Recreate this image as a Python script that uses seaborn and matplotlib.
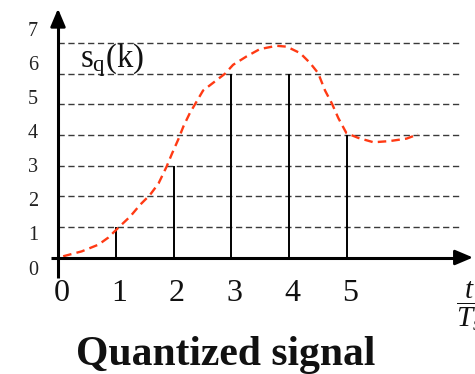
import matplotlib
matplotlib.use("Agg")
import matplotlib.pyplot as plt
import seaborn as sns
import numpy as np
import pandas as pd

# Sample instants and quantized levels
sample_k = [1, 2, 3, 4, 5]
quantized = [1, 3, 6, 6, 4]

# Continuous signal read along t/Ts
signal_t = [0.09, 0.41, 0.70, 0.87, 1.07, 1.25, 1.42, 1.59, 1.74, 1.88, 1.97,
            2.08, 2.17, 2.28, 2.37, 2.51, 2.69, 2.89, 3.03, 3.26, 3.49, 3.78,
            3.96, 4.19, 4.36, 4.50, 4.62, 4.74, 4.85, 4.99, 5.20, 5.46, 5.74,
            6.03, 6.23]
signal_v = [0.04, 0.20, 0.42, 0.65, 1.02, 1.34, 1.72, 2.04, 2.42, 2.97, 3.38,
            3.85, 4.28, 4.71, 5.00, 5.45, 5.71, 6.00, 6.29, 6.56, 6.80, 6.91,
            6.88, 6.67, 6.35, 6.02, 5.45, 5.02, 4.55, 4.06, 3.90, 3.76, 3.80,
            3.88, 4.02]

levels = [1, 2, 3, 4, 5, 6, 7]
y_labels = ["0", "1", "2", "3", "4", "5", "6", "7"]
x_labels = ["0", "1", "2", "3", "4", "5"]

sns.set_theme(style="white")
plt.rcParams["font.family"] = ["Liberation Serif", "DejaVu Serif"]
plt.rcParams["mathtext.fontset"] = "custom"
plt.rcParams["mathtext.rm"] = "Liberation Serif"
plt.rcParams["mathtext.it"] = "Liberation Serif:italic"

fig = plt.figure(figsize=(4.75, 3.74), dpi=100)
ax = fig.add_axes([0, 0, 1, 1])
ax.set_xlim(-1.0035, 7.2145)
ax.set_ylim(-3.802, 8.404)
ax.axis("off")

# Quantization levels
ax.hlines(levels, 0, 6.95, colors="#3a3a3a", linewidth=1.0,
          linestyles=(0, (4.5, 2.6)), zorder=1)

# Continuous signal
sig = pd.DataFrame({"t": signal_t, "v": signal_v})
sns.lineplot(data=sig, x="t", y="v", ax=ax, color="#ff3a14", linewidth=1.7,
             dashes=False, zorder=3)
ax.lines[-1].set_linestyle((0, (3.6, 2.2)))

# Quantized samples
ax.vlines(sample_k, 0, quantized, colors="black", linewidth=1.4, zorder=2)

# Axes with arrows
ax.plot([-0.12, 7.0], [0, 0], color="black", linewidth=2.2, zorder=4,
        solid_capstyle="butt")
ax.plot([0, 0], [-0.67, 7.8], color="black", linewidth=2.2, zorder=4,
        solid_capstyle="butt")
ax.annotate("", xy=(7.18, 0), xytext=(6.95, 0),
            arrowprops=dict(arrowstyle="-|>,head_length=0.9,head_width=0.38",
                            color="black", lw=2.0, shrinkA=0, shrinkB=0),
            zorder=5)
ax.annotate("", xy=(0, 8.12), xytext=(0, 7.6),
            arrowprops=dict(arrowstyle="-|>,head_length=0.9,head_width=0.38",
                            color="black", lw=2.0, shrinkA=0, shrinkB=0),
            zorder=5)

# Tick labels
for k, lab in enumerate(x_labels):
    ax.text(k + 0.06, -1.16, lab, ha="center", va="center", fontsize=23,
            color="#111111")
for k, lab in enumerate(y_labels):
    ax.text(-0.43, -0.41 + 1.113 * k, lab, ha="center", va="center",
            fontsize=14.5, color="#222222")

ax.text(0.38, 6.45, r"$\mathrm{s_q(k)}$", ha="left", va="center",
        fontsize=23.5, color="#111111")
ax.text(6.89, -1.6, r"$\dfrac{t}{T_s}$", ha="left", va="center",
        fontsize=21, color="#111111")

fig.text(0.476, 0.024, "Quantized signal", ha="center", va="baseline",
         fontsize=30, fontweight="bold", color="#111111")

fig.savefig("out.png", dpi=100)
